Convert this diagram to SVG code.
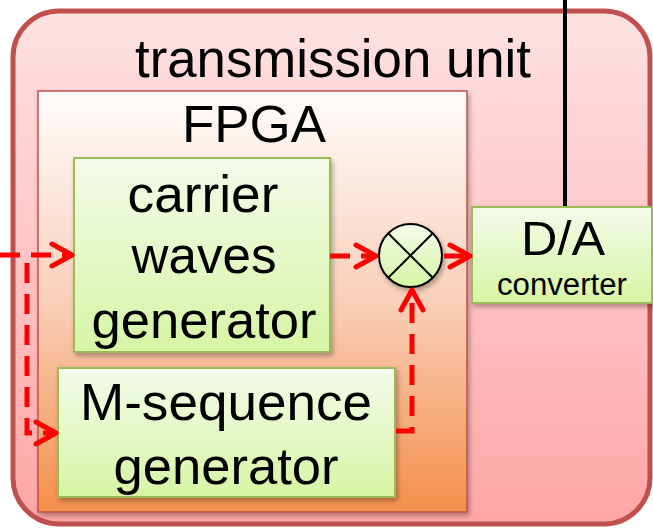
<svg xmlns="http://www.w3.org/2000/svg" width="653" height="530" viewBox="0 0 653 530">
  <defs>
    <linearGradient id="gUnit" x1="0" y1="0" x2="0" y2="1">
      <stop offset="0" stop-color="#fde2e2"/>
      <stop offset="1" stop-color="#ffa6a6"/>
    </linearGradient>
    <linearGradient id="gFpga" x1="0" y1="0" x2="0" y2="1">
      <stop offset="0" stop-color="#fffdfc"/>
      <stop offset="0.5" stop-color="#f9cfb8"/>
      <stop offset="1" stop-color="#f4904a"/>
    </linearGradient>
    <linearGradient id="gGreen" x1="0" y1="0" x2="0" y2="1">
      <stop offset="0" stop-color="#f4fbea"/>
      <stop offset="1" stop-color="#d6f5a4"/>
    </linearGradient>
    <filter id="shadow" x="-10%" y="-10%" width="125%" height="125%">
      <feDropShadow dx="2" dy="3" stdDeviation="2.5" flood-color="#000" flood-opacity="0.3"/>
    </filter>
    <marker id="chev" markerUnits="userSpaceOnUse" viewBox="-24 -14 28 28" refX="0" refY="0" markerWidth="28" markerHeight="28" orient="auto" overflow="visible">
      <path d="M-20,-11 L0,0 L-20,11" fill="none" stroke="#ff0000" stroke-width="5" stroke-linecap="round" stroke-linejoin="round"/>
    </marker>
    <style>
      text { font-family: "Liberation Sans", Arial, sans-serif; fill: #000; text-anchor: middle; }
      .big { font-size: 52px; }
      .block { fill: url(#gGreen); stroke: #9bbb59; stroke-width: 2; filter: url(#shadow); }
      .flow { fill: none; stroke: #ff0000; stroke-width: 5; stroke-dasharray: 20 11; marker-end: url(#chev); }
    </style>
  </defs>

  <!-- transmission unit -->
  <g id="transmission-unit">
    <rect x="13" y="11" width="637" height="513" rx="46" fill="url(#gUnit)" stroke="#c0504d" stroke-width="5"/>
    <text x="333" y="77" font-size="53" textLength="396" lengthAdjust="spacingAndGlyphs">transmission unit</text>
  </g>

  <!-- output line leaving the D/A converter -->
  <line x1="565" y1="0" x2="565" y2="208" stroke="#000" stroke-width="4"/>

  <!-- FPGA -->
  <g id="fpga">
    <rect x="38" y="91" width="429" height="421" fill="url(#gFpga)" stroke="#c0504d" stroke-width="1.5" filter="url(#shadow)"/>
    <text class="big" x="254" y="142" textLength="144" lengthAdjust="spacingAndGlyphs">FPGA</text>
  </g>

  <!-- carrier waves generator -->
  <g id="carrier-generator">
    <rect class="block" x="74" y="158" width="256" height="194"/>
    <text class="big" x="203" y="212" textLength="151" lengthAdjust="spacingAndGlyphs">carrier</text>
    <text class="big" x="204" y="273" textLength="145" lengthAdjust="spacingAndGlyphs">waves</text>
    <text class="big" x="204" y="338" textLength="225" lengthAdjust="spacingAndGlyphs">generator</text>
  </g>

  <!-- M-sequence generator -->
  <g id="m-sequence-generator">
    <rect class="block" x="58" y="368" width="337" height="129"/>
    <text class="big" x="226" y="420" textLength="292" lengthAdjust="spacingAndGlyphs">M-sequence</text>
    <text class="big" x="226" y="484" textLength="225" lengthAdjust="spacingAndGlyphs">generator</text>
  </g>

  <!-- multiplier -->
  <g id="multiplier">
    <circle cx="410.5" cy="255.5" r="31.5" fill="url(#gGreen)" stroke="#000" stroke-width="2" filter="url(#shadow)"/>
    <path d="M388.2,233.2 L432.8,277.8 M432.8,233.2 L388.2,277.8" stroke="#000" stroke-width="2"/>
  </g>

  <!-- D/A converter -->
  <g id="da-converter">
    <rect class="block" x="472" y="207" width="180" height="96"/>
    <text x="563" y="255" font-size="48" textLength="84" lengthAdjust="spacingAndGlyphs">D/A</text>
    <text x="562" y="295" font-size="31" textLength="130" lengthAdjust="spacingAndGlyphs">converter</text>
  </g>

  <!-- signal flow -->
  <g id="connectors">
    <path class="flow" d="M0,255 L72,255"/>
    <path class="flow" d="M27,263 L27,433 L56,433"/>
    <path class="flow" d="M330,256 L376,256"/>
    <path class="flow" stroke-dasharray="none" d="M444,256 L470,256"/>
    <path class="flow" d="M396,431 L412,431 L412,290"/>
  </g>
</svg>
